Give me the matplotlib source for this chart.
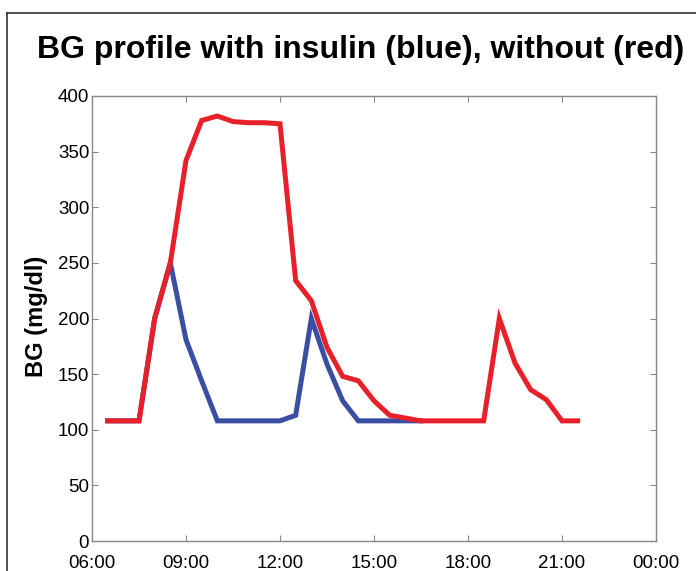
import matplotlib
matplotlib.use("Agg")
import matplotlib.pyplot as plt
from matplotlib.lines import Line2D

# Data (hours of day, BG mg/dl)
hours_red = [6.5, 7.5, 8.0, 8.5, 9.0, 9.5, 10.0, 10.5, 11.0, 11.5, 12.0, 12.5, 13.0,
             13.5, 14.0, 14.5, 15.0, 15.5, 16.5, 18.5, 19.0, 19.5, 20.0, 20.5, 21.0, 21.5]
bg_red = [108, 108, 200, 250, 342, 378, 382, 377, 376, 376, 375, 234, 216,
          174, 148, 144, 126, 113, 108, 108, 200, 160, 136, 127, 108, 108]

hours_blue = [6.5, 7.5, 8.0, 8.5, 9.0, 9.5, 10.0, 12.0, 12.5, 13.0, 13.5, 14.0, 14.5, 16.5]
bg_blue = [108, 108, 200, 250, 181, 144, 108, 108, 113, 200, 159, 126, 108, 108]

xtick_hours = [6, 9, 12, 15, 18, 21, 24]
xtick_labels = ["06:00", "09:00", "12:00", "15:00", "18:00", "21:00", "00:00"]
yticks = [0, 50, 100, 150, 200, 250, 300, 350, 400]

plt.rcParams['font.family'] = ['Liberation Sans', 'DejaVu Sans']

W, H = 696, 571
fig = plt.figure(figsize=(W/100, H/100), dpi=100)
ax = fig.add_axes([92/W, 1-541/H, (656-92)/W, (541-96)/H])

ax.plot(hours_blue, bg_blue, color='#3a4fa3', lw=3.6, solid_joinstyle='miter')
ax.plot(hours_red, bg_red, color='#e8202a', lw=3.6, solid_joinstyle='miter')

ax.set_xlim(6, 24)
ax.set_ylim(0, 400)
ax.set_xticks(xtick_hours)
ax.set_xticklabels(xtick_labels)
ax.set_yticks(yticks)
ax.tick_params(direction='in', length=4, width=0.8, color='#888888',
               top=True, right=True, labelsize=13.5)
ax.tick_params(axis='x', pad=10)
ax.tick_params(axis='y', pad=2)
for s in ax.spines.values():
    s.set_color('#888888')
    s.set_linewidth(1.0)

fig.text(36/W, 1-316/H, "BG (mg/dl)", rotation=90, ha='center', va='center',
         fontsize=17, fontweight='bold')
fig.text(361/W, 1-50/H, "BG profile with insulin (blue), without (red)",
         ha='center', va='center', fontsize=23, fontweight='bold')

# partial frame (top and left) as in the reference crop
fig.add_artist(Line2D([7/W, 1.0], [1-13/H, 1-13/H], transform=fig.transFigure,
                      color='#333333', lw=1.2))
fig.add_artist(Line2D([7/W, 7/W], [0, 1-13/H], transform=fig.transFigure,
                      color='#333333', lw=1.2))

fig.savefig("out.png", dpi=100)
